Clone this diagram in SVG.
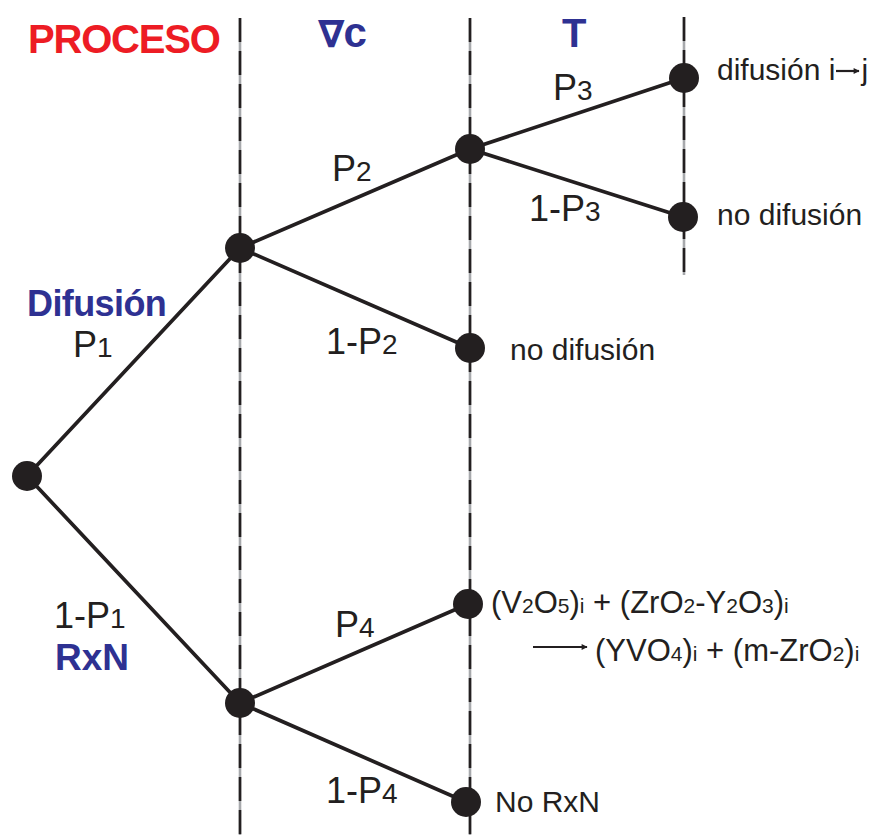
<svg xmlns="http://www.w3.org/2000/svg" width="874" height="835" viewBox="0 0 874 835">
<defs>
<style>
.t{font-family:"Liberation Sans",Arial,sans-serif;fill:#231f20}
.lbl{font-size:36px}
.sub{font-size:28px}
.sm{font-size:30px}
.fm{font-size:31px}
.ssub{font-size:21px}
.bold{font-weight:bold}
.blue{fill:#2e3192}
.red{fill:#ed1c24}
.edge{stroke:#231f20;stroke-width:3.7;fill:none;stroke-linecap:round}
.gl{stroke:#a7a9ac;stroke-width:2.6}
.dl{stroke:#231f20;stroke-width:2.6;stroke-dasharray:24 9}
.nd{fill:#231f20}
</style>
<marker id="ah" viewBox="0 0 10 10" refX="9" refY="5" markerWidth="7" markerHeight="6" orient="auto" markerUnits="userSpaceOnUse">
<path d="M0,0 L10,5 L0,10 z" fill="#231f20"/>
</marker>
<marker id="ah2" viewBox="0 0 10 10" refX="9" refY="5" markerWidth="9" markerHeight="6" orient="auto" markerUnits="userSpaceOnUse">
<path d="M0,0 L10,5 L0,10 z" fill="#231f20"/>
</marker>
</defs>
<rect width="874" height="835" fill="#ffffff"/>
<g id="guides">
<line class="gl" x1="240" y1="18" x2="240" y2="835"/>
<line class="dl" x1="240" y1="18" x2="240" y2="835"/>
<line class="gl" x1="470" y1="18" x2="470" y2="835"/>
<line class="dl" x1="470" y1="18" x2="470" y2="835"/>
<line class="gl" x1="684" y1="17" x2="684" y2="275"/>
<line class="dl" x1="684" y1="17" x2="684" y2="275"/>
</g>
<g id="headers">
<text class="t bold red" x="28" y="53" font-size="40" letter-spacing="-1.2">PROCESO</text>
<text class="t bold blue" x="318" y="47" font-size="42"><tspan font-family="DejaVu Sans,sans-serif" font-weight="bold" font-size="38">∇</tspan><tspan dx="-1">c</tspan></text>
<text class="t bold blue" x="562" y="47" font-size="40">T</text>
</g>
<g id="connectors">
<line class="edge" x1="27" y1="476" x2="240" y2="248"/>
<line class="edge" x1="27" y1="476" x2="240" y2="703"/>
<line class="edge" x1="240" y1="248" x2="470" y2="149"/>
<line class="edge" x1="240" y1="248" x2="470" y2="348"/>
<line class="edge" x1="470" y1="149" x2="684" y2="78"/>
<line class="edge" x1="470" y1="149" x2="683" y2="217"/>
<line class="edge" x1="240" y1="703" x2="468" y2="604"/>
<line class="edge" x1="240" y1="703" x2="466" y2="802"/>
</g>
<g id="n-root"><circle class="nd" cx="27" cy="476" r="15"/></g>
<g id="n-difusion"><circle class="nd" cx="240" cy="248" r="15"/></g>
<g id="n-rxn"><circle class="nd" cx="240" cy="703" r="15"/></g>
<g id="n-grad"><circle class="nd" cx="470" cy="149" r="15"/></g>
<g id="n-nodif1"><circle class="nd" cx="470" cy="348" r="15"/>
<text class="t sm" x="510" y="360">no difusión</text></g>
<g id="n-dif-ij"><circle class="nd" cx="684" cy="78" r="15"/>
<text class="t sm" x="717" y="80">difusión i<tspan dx="26">j</tspan></text>
<line x1="836" y1="71" x2="859" y2="71" stroke="#231f20" stroke-width="2.2" marker-end="url(#ah)"/></g>
<g id="n-nodif2"><circle class="nd" cx="683" cy="217" r="15"/>
<text class="t sm" x="717" y="225">no difusión</text></g>
<g id="n-reaction"><circle class="nd" cx="468" cy="604" r="15"/>
<text class="t fm" x="491" y="613">(V<tspan class="ssub">2</tspan>O<tspan class="ssub">5</tspan>)<tspan class="ssub">i</tspan> + (ZrO<tspan class="ssub">2</tspan>-Y<tspan class="ssub">2</tspan>O<tspan class="ssub">3</tspan>)<tspan class="ssub">i</tspan></text>
<line x1="533" y1="647" x2="587" y2="647" stroke="#231f20" stroke-width="2" marker-end="url(#ah2)"/>
<text class="t fm" x="595" y="661">(YVO<tspan class="ssub">4</tspan>)<tspan class="ssub">i</tspan> + (m-ZrO<tspan class="ssub">2</tspan>)<tspan class="ssub">i</tspan></text></g>
<g id="n-norxn"><circle class="nd" cx="466" cy="802" r="15"/>
<text class="t sm" x="495" y="812">No RxN</text></g>
<g id="labels">
<text class="t bold blue" x="27" y="316" font-size="36" letter-spacing="-0.6">Difusión</text>
<text class="t lbl" x="73" y="357">P<tspan class="sub">1</tspan></text>
<text class="t lbl" x="54" y="628">1-P<tspan class="sub">1</tspan></text>
<text class="t bold blue" x="55" y="670" font-size="37">RxN</text>
<text class="t lbl" x="332" y="181">P<tspan class="sub">2</tspan></text>
<text class="t lbl" x="326" y="354">1-P<tspan class="sub">2</tspan></text>
<text class="t lbl" x="553" y="100">P<tspan class="sub">3</tspan></text>
<text class="t lbl" x="529" y="221">1-P<tspan class="sub">3</tspan></text>
<text class="t lbl" x="335" y="637">P<tspan class="sub">4</tspan></text>
<text class="t lbl" x="326" y="803">1-P<tspan class="sub">4</tspan></text>
</g>
</svg>
